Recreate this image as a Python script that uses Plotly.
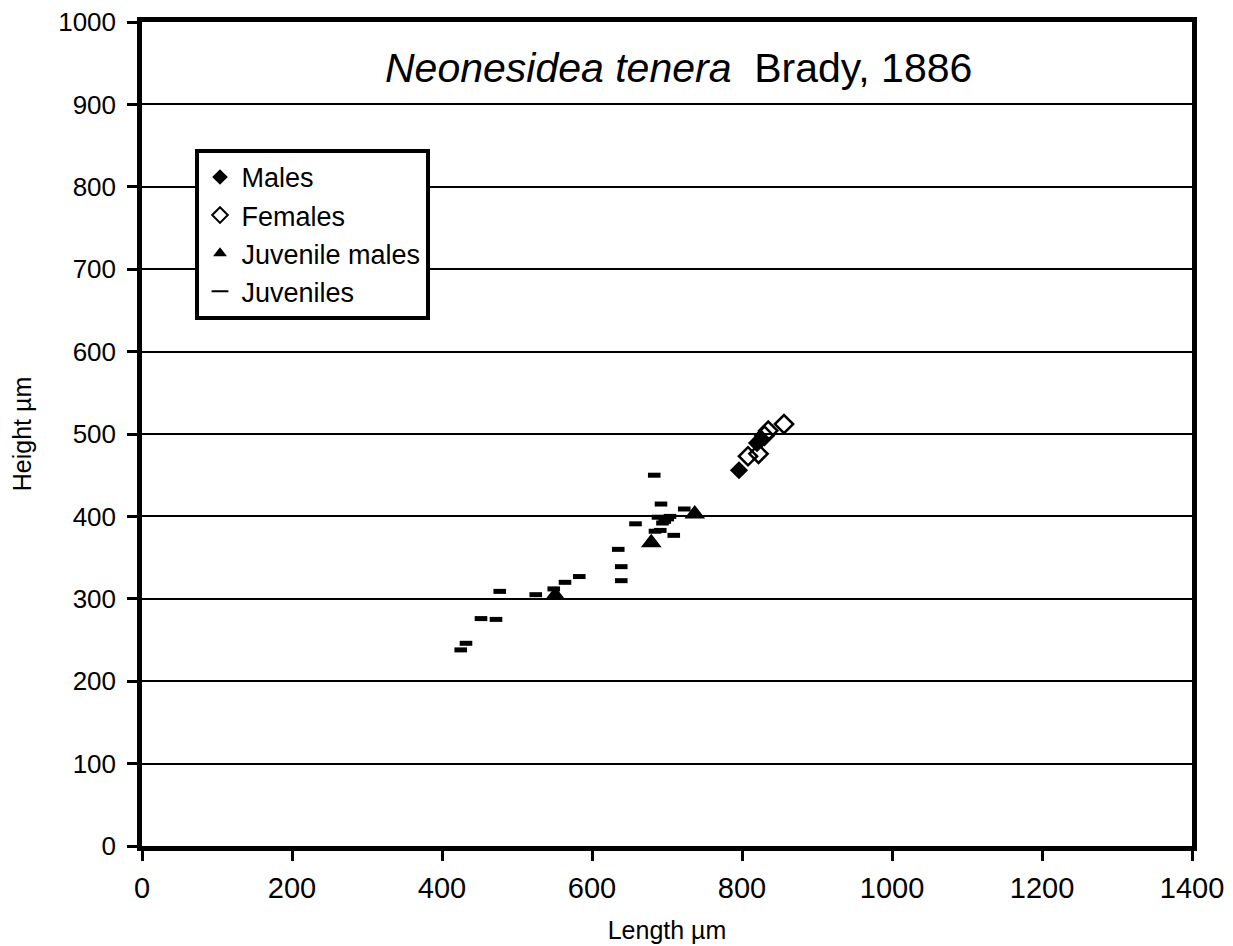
import plotly.graph_objects as go

males_x = [796, 820, 826]
males_y = [456, 489, 494]
females_x = [808, 822, 830, 835, 856]
females_y = [473, 476, 498, 504, 512]
juv_males_x = [551, 679, 737]
juv_males_y = [304, 368, 403]
juv_x = [425, 432, 452, 472, 477, 525, 549, 564, 583, 635, 639, 639, 658, 683, 692, 723,
         688, 701, 694, 684, 691, 709, 697, 704]
juv_y = [238, 246, 276, 275, 309, 305, 312, 320, 327, 360, 339, 322, 391, 450, 415, 409,
         399, 397, 392, 382, 383, 377, 394, 400]

x_ticks = [0, 200, 400, 600, 800, 1000, 1200, 1400]
y_ticks = [0, 100, 200, 300, 400, 500, 600, 700, 800, 900, 1000]

font = "Liberation Sans, Arial, sans-serif"

fig = go.Figure()
fig.add_trace(go.Scatter(x=males_x, y=males_y, mode="markers", name="Males",
                         marker=dict(symbol="diamond", size=14, color="black")))
fig.add_trace(go.Scatter(x=females_x, y=females_y, mode="markers", name="Females",
                         marker=dict(symbol="diamond-open", size=14, color="black",
                                     line=dict(width=2.5, color="black"))))
fig.add_trace(go.Scatter(x=juv_males_x, y=juv_males_y, mode="markers", name="Juvenile males",
                         marker=dict(symbol="triangle-up", size=18, color="black")))
fig.add_trace(go.Scatter(x=juv_x, y=juv_y, mode="markers", name="Juveniles",
                         marker=dict(symbol="line-ew", size=9, color="black",
                                     line=dict(width=5, color="black"))))

fig.update_layout(
    width=1233, height=946,
    margin=dict(l=134, r=49, t=14, b=108, autoexpand=False),
    paper_bgcolor="white", plot_bgcolor="white",
    font=dict(family=font, size=25, color="black"),
    showlegend=True,
    legend=dict(x=0.05, y=0.846, xanchor="left", yanchor="top",
                bordercolor="black", borderwidth=4, bgcolor="white",
                font=dict(size=27, family=font), tracegroupgap=0, itemwidth=33,
                itemsizing="constant"),
    annotations=[dict(text="<i>Neonesidea tenera</i>  Brady, 1886", xref="paper", yref="paper",
                      x=0.511, y=0.944, xanchor="center", yanchor="middle", showarrow=False,
                      font=dict(size=41, family=font, color="black"))],
)
fig.update_xaxes(range=[0, 1400], tickvals=x_ticks, ticks="outside", ticklen=10, tickwidth=3,
                 tickcolor="black", showline=True, linewidth=4.5, linecolor="black", mirror=True,
                 showgrid=False, zeroline=False, ticklabelstandoff=2, ticklabeloverflow="allow",
                 title=dict(text="Length µm", font=dict(size=25), standoff=20),
                 tickfont=dict(size=29))
fig.update_yaxes(range=[0, 1000], tickvals=y_ticks, ticks="outside", ticklen=10, tickwidth=3,
                 tickcolor="black", showline=True, linewidth=4.5, linecolor="black", mirror=True,
                 showgrid=True, gridcolor="black", gridwidth=2, zeroline=False,
                 ticklabelstandoff=6, ticklabeloverflow="allow",
                 title=dict(text="Height µm", font=dict(size=25), standoff=34),
                 tickfont=dict(size=26))

fig.write_html("out.html")
